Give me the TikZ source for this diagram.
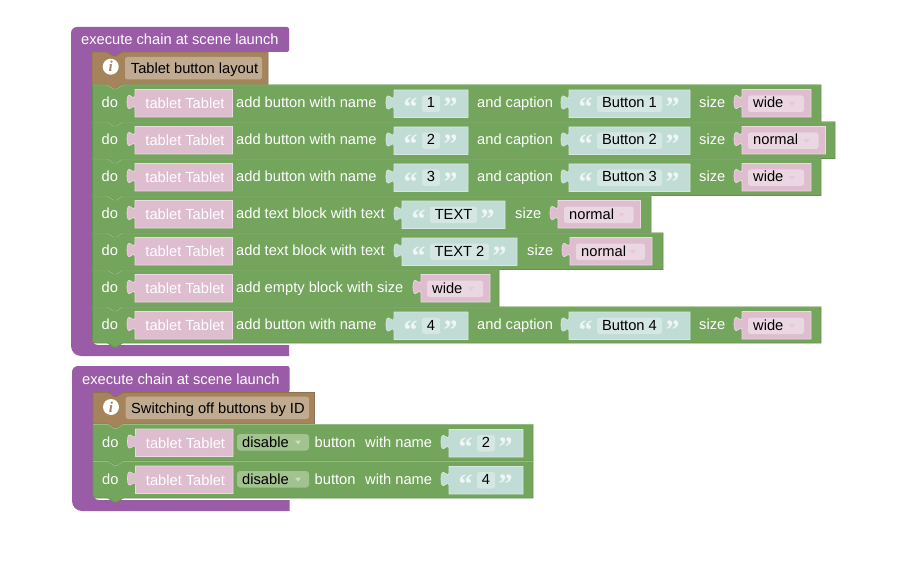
\documentclass[tikz,border=0pt]{standalone}
\usepackage{fontspec}
\setmainfont{Liberation Sans}
\newfontfamily\quotefont{Liberation Serif}
\usepackage{xcolor}
\definecolor{chainpurple}{HTML}{9A5CA6}
\definecolor{notebrown}{HTML}{A5845B}
\definecolor{notebrownedge}{HTML}{8F7350}
\definecolor{notefield}{HTML}{C0AB90}
\definecolor{dogreen}{HTML}{74A55C}
\definecolor{dogreenedge}{HTML}{66924F}
\definecolor{dogreenlight}{HTML}{95BC82}
\definecolor{dropgreen}{HTML}{A2C28F}
\definecolor{tabletpink}{HTML}{DDBDCE}
\definecolor{tabletedge}{HTML}{EBD9E3}
\definecolor{pinkfield}{HTML}{EBD7E2}
\definecolor{stringteal}{HTML}{C1DCD5}
\definecolor{stringedge}{HTML}{D6E8E3}
\definecolor{tealfield}{HTML}{D4E7E2}

% stacked block with notch on top and tab below: style, left, top, bottom, right, corner
\newcommand{\notchblock}[6]{
  \draw[#1] (#2,#3) -- (#2+15,#3) -- (#2+21,#3+4) -- (#2+24,#3+4) -- (#2+30,#3) -- (#5,#3)
    -- (#5,#4) -- (#2+30,#4) -- (#2+24,#4+4) -- (#2+21,#4+4) -- (#2+15,#4) -- (#2+#6,#4)
    .. controls (#2,#4) .. (#2,#4-#6) -- cycle;
}
% input slot with the puzzle tab on its left: style, left, right, top
\newcommand{\inputslot}[4]{
  \draw[#1, shift={(#2,#4)}] (0,0) -- (0,5) .. controls (0,15) and (-8,-3) .. (-8,12.5)
    .. controls (-8,28) and (0,10) .. (0,20) -- (0,27.5) -- ({(#3)-(#2)},27.5) -- ({(#3)-(#2)},0) -- cycle;
}
% do + tablet Tablet: left, row top
\newcommand{\tabletcell}[2]{
  \node[rowlabel] (do#2) at (#1+9,#2+22.7) {do};
  \inputslot{tabletbox}{#1+42.5}{#1+140}{#2+4.5}
  \node[tabletlabel] (tablet#2) at (#1+92.5,#2+23.5) {tablet Tablet};
}
% text input with quotes: left, right, row top, text
\newcommand{\stringslot}[4]{
  \inputslot{stringbox}{#1}{#2}{#3+5}
  \fill[tealinner] (#1+28,#3+10.5) rectangle (#2-28,#3+27);
  \node[quotemark] (open#1at#3) at (#1+16.5,#3+32) {“};
  \node[quotemark] (close#1at#3) at (#2-17.5,#3+32) {”};
  \node[fieldlabel] (string#1at#3) at ({(#1+#2)/2},#3+23) {#4};
}
% dropdown on a pink slot: left, right, row top, text
\newcommand{\sizeslot}[4]{
  \inputslot{tabletbox}{#1}{#2}{#3+4.5}
  \fill[pinkinner] (#1+6,#3+10.5) rectangle (#2-7,#3+27);
  \fill[dropmark] (#2-22,#3+17) -- (#2-16,#3+17) -- (#2-19,#3+21) -- cycle;
  \node[sizelabel] (size#1at#3) at (#1+11,#3+23) {#4};
}

\begin{document}
\begin{tikzpicture}[
  x=1pt, y=-1pt,
  every node/.style={inner sep=0pt, font=\fontsize{14.67}{16}\selectfont},
  rowlabel/.style={anchor=base west, text=white},
  tabletlabel/.style={anchor=base, text=white},
  fieldlabel/.style={anchor=base, text=black},
  sizelabel/.style={anchor=base west, text=black},
  quotemark/.style={anchor=base, text=white!75!stringteal, font=\quotefont\bfseries\fontsize{28}{28}\selectfont},
  chainblock/.style={fill=chainpurple},
  noteblock/.style={fill=notebrown, draw=notebrownedge, line width=0.7pt},
  doblock/.style={fill=dogreen, draw=dogreenedge, line width=0.7pt},
  dotop/.style={draw=dogreenlight, line width=0.7pt},
  tabletbox/.style={fill=tabletpink, draw=tabletedge, line width=0.6pt},
  stringbox/.style={fill=stringteal, draw=stringedge, line width=0.6pt},
  tealinner/.style={fill=tealfield, rounded corners=2.5pt},
  pinkinner/.style={fill=pinkfield, rounded corners=2.5pt},
  noteinner/.style={fill=notefield, rounded corners=2.5pt},
  dropinner/.style={fill=dropgreen, rounded corners=3pt},
  dropmark/.style={fill=tabletpink!80!white},
  greenmark/.style={fill=dropgreen!55!white},
  infoicon/.style={circle, fill=white, minimum size=16pt, text=notebrown, font=\quotefont\bfseries\itshape\fontsize{15}{15}\selectfont}
]
  \useasboundingbox (0,0) rectangle (908,575);
  \fill[white] (0,0) rectangle (908,575);

  % First chain
  \fill[chainblock] (71,200) [rounded corners=6pt] -- (71,27) [rounded corners=2pt] -- (289,27) -- (289,52)
    [sharp corners] -- (122,52) -- (116,56) -- (113,56) -- (107,52) -- (92,52)
    [rounded corners=6pt] -- (92,345) [sharp corners] -- (289,345) -- (289,356)
    [rounded corners=10pt] -- (71,356) [sharp corners] -- cycle;
  \node[rowlabel] (chaina) at (81,44.5) {execute chain at scene launch};

  \notchblock{noteblock}{92}{52}{84.5}{268}{0}
  \node[infoicon] (infoa) at (110.7,66.7) {i};
  \fill[noteinner] (125,57) rectangle (262,79.5);
  \node[sizelabel] (notea) at (130.7,73.5) {Tablet button layout};

  % Rows of the first chain
  \foreach \rowtop/\rowbot/\rowend/\rowcorner in {85/121.5/821/0, 122/158.5/835/0, 159/195.5/821/0, 196/232.5/651/0, 233/269.5/663/0, 270/306.5/499/0, 307/343/821/5}{
    \notchblock{doblock}{92.5}{\rowtop}{\rowbot}{\rowend}{\rowcorner}
    \draw[dotop] (92.5,\rowtop) -- (107.5,\rowtop) -- (113.5,\rowtop+4) -- (116.5,\rowtop+4) -- (122.5,\rowtop) -- (\rowend,\rowtop);
    \tabletcell{92.5}{\rowtop}
  }

  \foreach \rowtop/\rowname/\captext/\sizeend/\sizetext in {85/1/Button 1/811/wide, 122/2/Button 2/825.5/normal, 159/3/Button 3/811/wide, 307/4/Button 4/811/wide}{
    \node[rowlabel] (addbutton\rowname) at (236,\rowtop+22.7) {add button with name};
    \stringslot{394}{468}{\rowtop}{\rowname}
    \node[rowlabel] (andcaption\rowname) at (477,\rowtop+22.7) {and caption};
    \stringslot{569}{690}{\rowtop}{\captext}
    \node[rowlabel] (sizeword\rowname) at (699,\rowtop+22.7) {size};
    \sizeslot{742}{\sizeend}{\rowtop}{\sizetext}
  }

  \node[rowlabel] (addtexta) at (236,218.7) {add text block with text};
  \stringslot{402}{505}{196}{TEXT}
  \node[rowlabel] (sizeworda) at (515,218.7) {size};
  \sizeslot{558}{640.5}{196}{normal}

  \node[rowlabel] (addtextb) at (236,255.7) {add text block with text};
  \stringslot{402}{517}{233}{TEXT 2}
  \node[rowlabel] (sizewordb) at (527,255.7) {size};
  \sizeslot{570}{652}{233}{normal}

  \node[rowlabel] (addempty) at (236,292.7) {add empty block with size};
  \sizeslot{421}{490}{270}{wide}

  % Second chain
  \fill[chainblock] (72,450) [rounded corners=6pt] -- (72,366) [rounded corners=2pt] -- (289.5,366) -- (289.5,392.5)
    [sharp corners] -- (123,392.5) -- (117,396.5) -- (114,396.5) -- (108,392.5) -- (93,392.5)
    [rounded corners=6pt] -- (93,500) [sharp corners] -- (289.5,500) -- (289.5,511)
    [rounded corners=10pt] -- (72,511) [sharp corners] -- cycle;
  \node[rowlabel] (chainb) at (82,384.5) {execute chain at scene launch};

  \notchblock{noteblock}{93}{392.5}{424}{314.5}{0}
  \node[infoicon] (infob) at (111,407) {i};
  \fill[noteinner] (125.7,396.7) rectangle (309,419);
  \node[sizelabel] (noteb) at (131,413.5) {Switching off buttons by ID};

  % Rows of the second chain
  \foreach \rowtop/\rowbot/\rowname/\rowcorner in {424.5/461/2/0, 461.5/498/4/5}{
    \notchblock{doblock}{93}{\rowtop}{\rowbot}{533}{\rowcorner}
    \draw[dotop] (93,\rowtop) -- (108,\rowtop) -- (114,\rowtop+4) -- (117,\rowtop+4) -- (123,\rowtop) -- (533,\rowtop);
    \tabletcell{93}{\rowtop}
    \fill[dropinner] (237,\rowtop+9.5) rectangle (309,\rowtop+26);
    \fill[greenmark] (295,\rowtop+16) -- (301,\rowtop+16) -- (298,\rowtop+20) -- cycle;
    \node[sizelabel] (disable\rowname) at (242,\rowtop+22.7) {disable};
    \node[rowlabel] (buttonword\rowname) at (314.5,\rowtop+22.7) {button};
    \node[rowlabel] (withname\rowname) at (365,\rowtop+22.7) {with name};
    \stringslot{449}{523}{\rowtop}{\rowname}
  }
\end{tikzpicture}
\end{document}
